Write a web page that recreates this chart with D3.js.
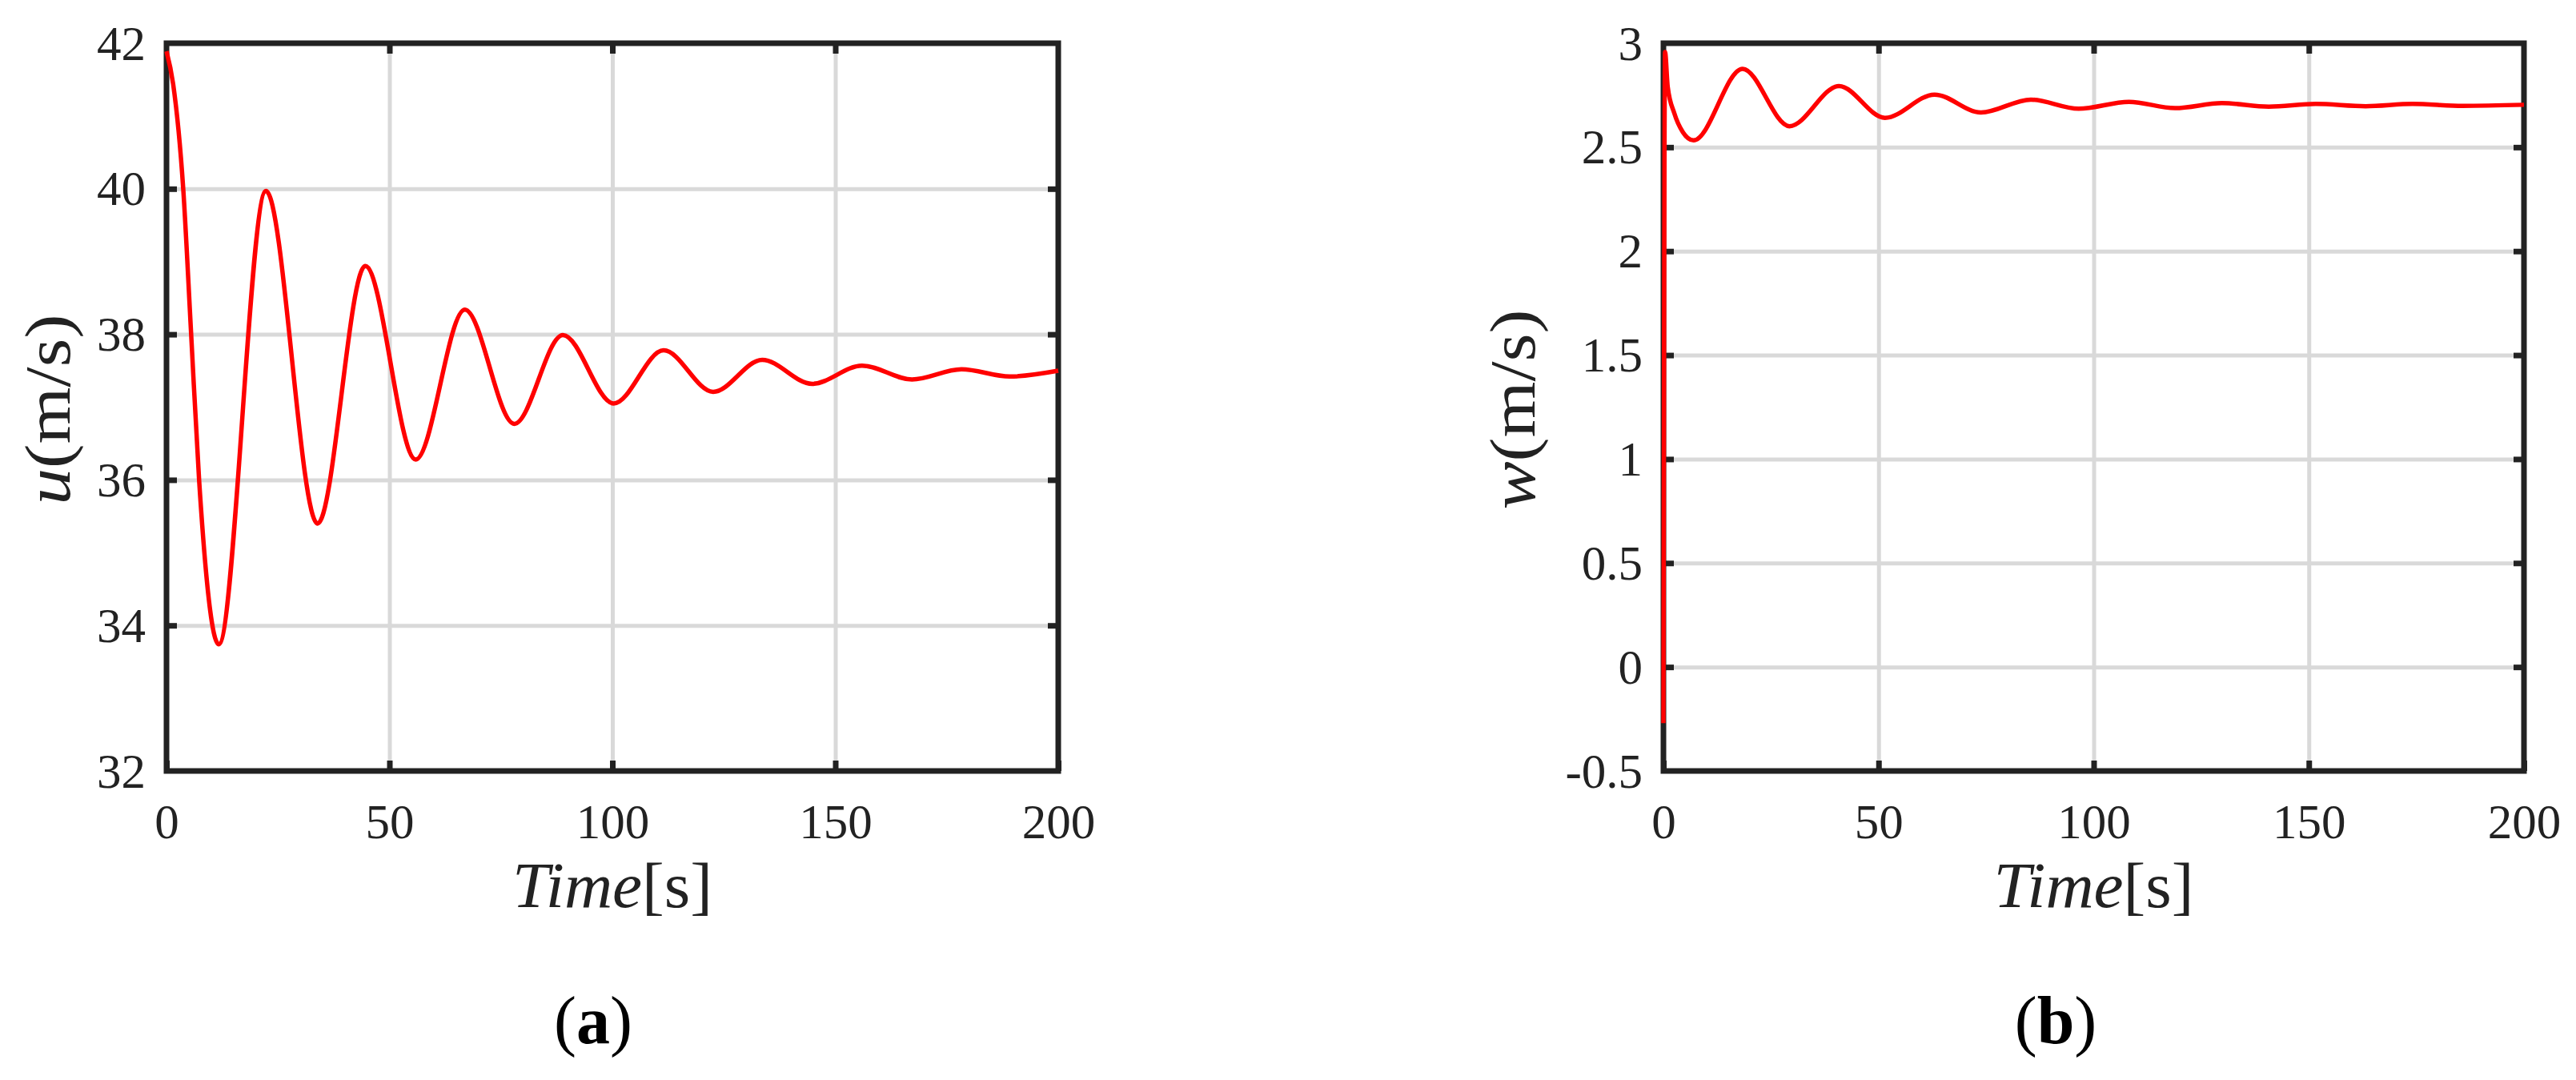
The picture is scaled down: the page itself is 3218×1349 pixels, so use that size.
<!DOCTYPE html>
<html><head><meta charset="utf-8">
<script src="https://cdn.jsdelivr.net/npm/d3@7"></script>
<style>html,body{margin:0;padding:0;background:#fff;} svg{display:block;}</style>
</head><body><svg id="chart" width="3218" height="1349"></svg>
<script>
// ---- data ----
const timeTicks = [0, 50, 100, 150, 200];
const uTicks = [32, 34, 36, 38, 40, 42];
const wTicks = [-0.5, 0, 0.5, 1, 1.5, 2, 2.5, 3];

const uTime   = [0, 1.49, 3.75, 5.53, 7.31, 11.71, 22.3, 33.89, 44.59, 55.89, 66.9, 78.0, 88.9, 100.3, 111.5, 122.6, 133.6, 144.8, 156.0, 167.2, 178.3, 189.1, 200];
const uValues = [41.89, 41.44, 40.0, 38.0, 36.0, 33.74, 39.97, 35.40, 38.94, 36.28, 38.34, 36.77, 37.99, 37.05, 37.78, 37.21, 37.65, 37.32, 37.57, 37.38, 37.52, 37.42, 37.50];

const wTime   = [0, 0.37, 1.0, 2.5, 4.5, 7.0, 18.4, 29.3, 40.8, 51.5, 63.0, 73.8, 85.4, 96.5, 108.2, 118.9, 129.8, 140.7, 151.6, 163.2, 174.1, 185.7, 200];
const wValues = [-0.27, 2.958, 2.79, 2.665, 2.573, 2.533, 2.877, 2.601, 2.794, 2.641, 2.753, 2.667, 2.729, 2.685, 2.718, 2.688, 2.712, 2.695, 2.708, 2.697, 2.708, 2.699, 2.704];

// ---- layout ----
const svg = d3.select("#chart");
svg.append("rect").attr("width", 3218).attr("height", 1349).attr("fill", "#fff");
const FONT = "Liberation Serif";
const AX = "#222";

const panels = [
  { x0: 208, x1: 1322, y0: 54, y1: 963, time: uTime, vals: uValues, yTicks: uTicks, yDomain: [32, 42],
    sym: "u", yLabelX: 87, yLabelLen: 238, sub: "a", subX: 741 },
  { x0: 2078, x1: 3153, y0: 54, y1: 963, time: wTime, vals: wValues, yTicks: wTicks, yDomain: [-0.5, 3],
    sym: "w", yLabelX: 1917, yLabelLen: 250, sub: "b", subX: 2568 }
];

function styleTicks(g) {
  g.select(".domain").remove();
  g.selectAll(".tick line").attr("stroke", AX).attr("stroke-width", 7);
}

panels.forEach(p => {
  const x = d3.scaleLinear().domain([0, 200]).range([p.x0, p.x1]);
  const y = d3.scaleLinear().domain(p.yDomain).range([p.y1, p.y0]);
  const W = p.x1 - p.x0, H = p.y1 - p.y0;
  const g = svg.append("g");

  // grid
  const gx = g.append("g").attr("transform", `translate(0,${p.y1})`)
    .call(d3.axisBottom(x).tickValues(timeTicks.slice(1, -1)).tickSize(-H).tickFormat(""));
  gx.select(".domain").remove();
  gx.selectAll(".tick line").attr("stroke", "#d9d9d9").attr("stroke-width", 5);
  const gy = g.append("g").attr("transform", `translate(${p.x0},0)`)
    .call(d3.axisLeft(y).tickValues(p.yTicks.slice(1, -1)).tickSize(-W).tickFormat(""));
  gy.select(".domain").remove();
  gy.selectAll(".tick line").attr("stroke", "#d9d9d9").attr("stroke-width", 5);

  // box
  g.append("rect").attr("x", p.x0).attr("y", p.y0).attr("width", W).attr("height", H)
    .attr("fill", "none").attr("stroke", AX).attr("stroke-width", 7);

  // ticks + labels
  const bottom = g.append("g").attr("transform", `translate(0,${p.y1})`)
    .call(d3.axisBottom(x).tickValues(timeTicks).tickSize(-13).tickFormat(d => String(d)));
  styleTicks(bottom);
  bottom.selectAll(".tick text").attr("y", 84).attr("dy", 0)
    .attr("font-family", FONT).attr("font-size", 61).attr("fill", AX);

  const top = g.append("g").attr("transform", `translate(0,${p.y0})`)
    .call(d3.axisTop(x).tickValues(timeTicks.slice(1, -1)).tickSize(-13).tickFormat(""));
  styleTicks(top);

  const left = g.append("g").attr("transform", `translate(${p.x0},0)`)
    .call(d3.axisLeft(y).tickValues(p.yTicks).tickSize(-13).tickPadding(26).tickFormat(d => String(d)));
  styleTicks(left);
  left.selectAll(".tick line").filter(d => d === p.yDomain[0] || d === p.yDomain[1]).remove();
  left.selectAll(".tick text").attr("x", -26).attr("dy", "0.33em")
    .attr("font-family", FONT).attr("font-size", 61).attr("fill", AX);

  const right = g.append("g").attr("transform", `translate(${p.x1},0)`)
    .call(d3.axisRight(y).tickValues(p.yTicks.slice(1, -1)).tickSize(-13).tickFormat(""));
  styleTicks(right);

  // data line
  const line = d3.line().x(d => x(d[0])).y(d => y(d[1])).curve(d3.curveMonotoneX);
  const pts = p.time.map((t, i) => [t, p.vals[i]]);
  g.append("path").datum(pts).attr("d", line)
    .attr("fill", "none").attr("stroke", "#ff0000").attr("stroke-width", 5.5)
    .attr("stroke-linejoin", "round");

  // x label
  const xl = g.append("text").attr("x", (p.x0 + p.x1) / 2).attr("y", 1133)
    .attr("text-anchor", "middle").attr("font-family", FONT).attr("font-size", 80).attr("fill", AX)
    .attr("textLength", 250).attr("lengthAdjust", "spacingAndGlyphs");
  xl.append("tspan").attr("font-style", "italic").text("Time");
  xl.append("tspan").text("[s]");

  // y label
  const yl = g.append("text")
    .attr("transform", `translate(${p.yLabelX},${(p.y0 + p.y1) / 2 + 3}) rotate(-90)`)
    .attr("text-anchor", "middle").attr("font-family", FONT).attr("font-size", 80).attr("fill", AX)
    .attr("textLength", p.yLabelLen).attr("lengthAdjust", "spacingAndGlyphs");
  yl.append("tspan").attr("font-style", "italic").text(p.sym);
  yl.append("tspan").text("(m/s)");

  // sub label
  const sl = g.append("text").attr("x", p.subX).attr("y", 1303)
    .attr("text-anchor", "middle").attr("font-family", FONT).attr("font-size", 84).attr("fill", "#000");
  sl.append("tspan").text("(");
  sl.append("tspan").attr("font-weight", "bold").text(p.sub);
  sl.append("tspan").text(")");
});
</script></body></html>
